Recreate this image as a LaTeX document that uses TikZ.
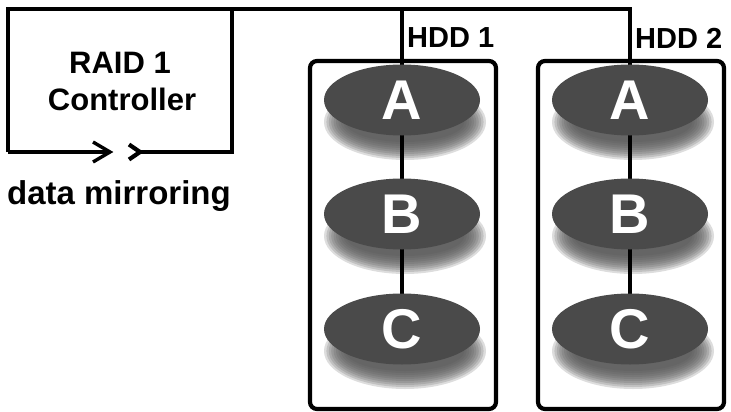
\documentclass[tikz,border=0pt]{standalone}
\usepackage{fontspec}
\setmainfont{Liberation Sans}
\usetikzlibrary{shapes.geometric}
\definecolor{diskgray}{HTML}{4A4A4A}
\definecolor{shadowgray}{HTML}{555555}
\tikzset{
  wire/.style={line width=3.4pt, black},
  hddbox/.style={line width=4.2pt, black, rounded corners=7pt},
  disk/.style={ellipse, fill=diskgray, minimum width=156pt, minimum height=71pt, inner sep=0pt,
     text=white, font=\bfseries\fontsize{56}{56}\selectfont},
  lbl/.style={font=\bfseries\fontsize{31}{34}\selectfont, inner sep=0pt},
  hddlbl/.style={font=\bfseries\fontsize{29}{32}\selectfont, inner sep=0pt, anchor=west},
}
\newcommand{\diskshadow}[2]{%
  \foreach \k in {0,...,9}{
    \fill[shadowgray, opacity=0.2] (#1+3,#2+22) ellipse ({81-\k*2.4} and {38-\k*2});
  }%
}
\begin{document}
\begin{tikzpicture}[x=1pt,y=-1pt]
\useasboundingbox (0,0) rectangle (731,412);
\fill[white] (0,0) rectangle (731,412);
% coordinates
\coordinate (ctl-tl) at (8,9);
\coordinate (ctl-tr) at (232,9);
\coordinate (ctl-br) at (232,152);
\coordinate (ctl-bl) at (8,152);
\coordinate (tap1) at (402,9);
\coordinate (tap2) at (630,9);
\coordinate (arr1) at (110,152);
\coordinate (arr2) at (140,152);
% texts
\node[lbl] (raid) at (120,63) {RAID 1};
\node[lbl] (ctrl) at (122,99) {Controller};
\node[font=\bfseries\fontsize{33}{36}\selectfont, inner sep=0pt] (mirror) at (119,196) {data mirroring};
\node[hddlbl] (h1) at (407,38) {HDD 1};
\node[hddlbl] (h2) at (635,38) {HDD 2};
% HDD boxes
\draw[hddbox] (310,61) rectangle (496,409);
\draw[hddbox] (538,61) rectangle (724,409);
% disks positions
\coordinate (p1a) at (402,100);
\coordinate (p1b) at (402,214);
\coordinate (p1c) at (402,329);
\coordinate (p2a) at (630,100);
\coordinate (p2b) at (630,214);
\coordinate (p2c) at (630,329);
% shadows
\diskshadow{402}{100}\diskshadow{402}{214}\diskshadow{402}{329}
\diskshadow{630}{100}\diskshadow{630}{214}\diskshadow{630}{329}
% wires
\draw[wire] (ctl-bl) -- (ctl-tl) -- (tap2) -- (p2a);
\draw[wire] (ctl-tr) -- (ctl-br) -- (arr2);
\draw[wire] (ctl-bl) -- (arr1);
\draw[wire, line join=miter] (93,142) -- (arr1) -- (93,162);
\draw[line width=4.2pt, line join=miter] (129,144.5) -- (arr2) -- (129,159.5);
\draw[wire] (tap1) -- (p1a);
\draw[wire] (p1a) -- (p1b) -- (p1c);
\draw[wire] (p2a) -- (p2b) -- (p2c);
% disks
\node[disk] (d1a) at (p1a) {A};
\node[disk] (d1b) at (p1b) {B};
\node[disk] (d1c) at (p1c) {C};
\node[disk] (d2a) at (p2a) {A};
\node[disk] (d2b) at (p2b) {B};
\node[disk] (d2c) at (p2c) {C};
\end{tikzpicture}
\end{document}
